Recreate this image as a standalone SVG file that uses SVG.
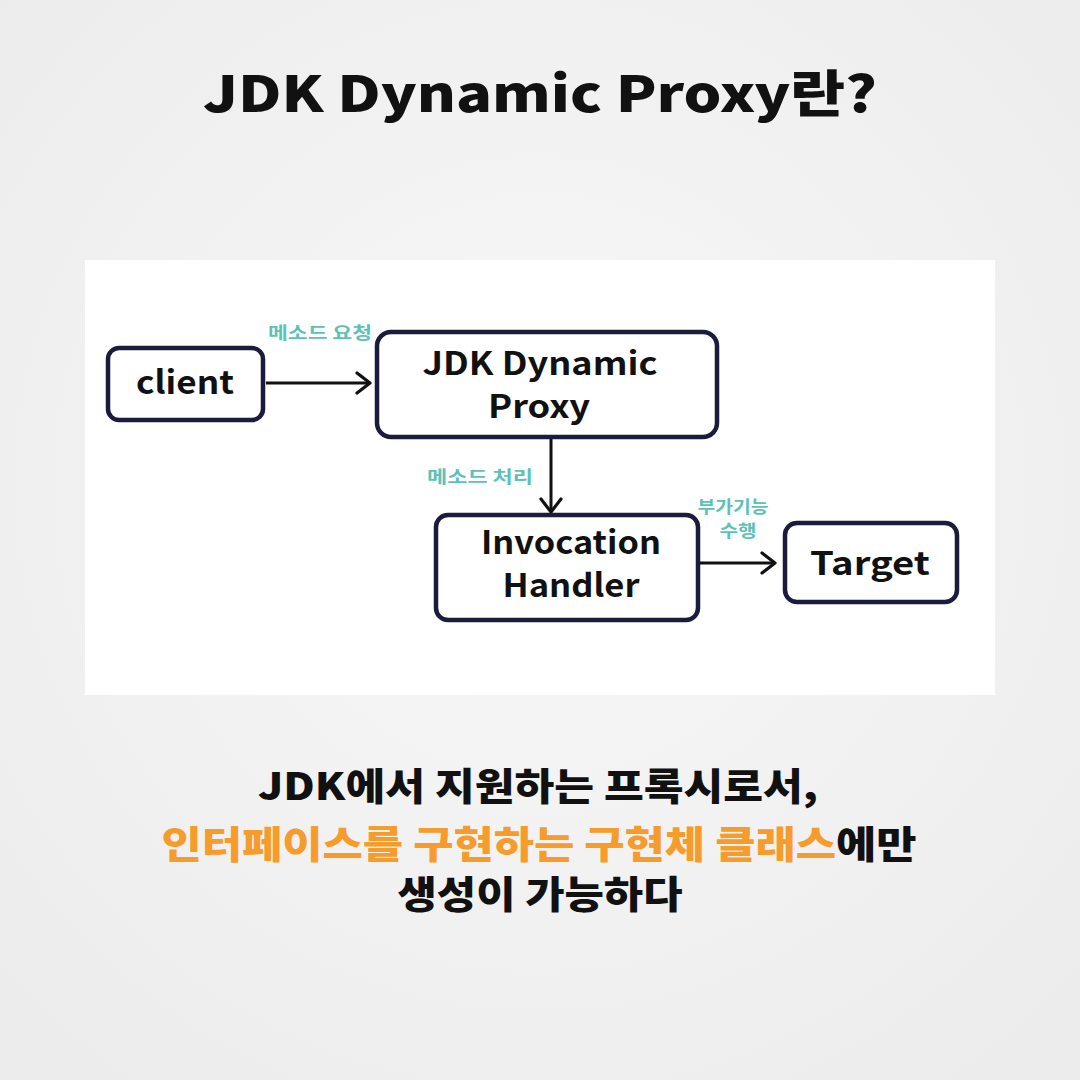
<svg xmlns="http://www.w3.org/2000/svg" width="1080" height="1080" viewBox="0 0 1080 1080">
<defs>
<radialGradient id="bg" cx="50%" cy="45%" r="75%">
<stop offset="0" stop-color="#f8f8f8"/>
<stop offset="1" stop-color="#ebebeb"/>
</radialGradient>
<marker id="arr" viewBox="0 0 24 24" refX="21" refY="12" markerWidth="24" markerHeight="24" markerUnits="userSpaceOnUse" orient="auto">
<path d="M8 2 L21 12 L8 22" fill="none" stroke="#111" stroke-width="3.2" stroke-linecap="round" stroke-linejoin="round"/>
</marker>
</defs>
<style>
.node{fill:#fff;stroke:#1b1b3d;stroke-width:4.5}
.nt{font-family:"Noto Sans CJK KR","Noto Sans",sans-serif;font-weight:700;font-size:32px;fill:#111;text-anchor:middle}
.lab{font-family:"Noto Sans CJK KR",sans-serif;font-weight:700;font-size:17px;fill:#5cc2b8;text-anchor:middle}
.con{stroke:#111;stroke-width:3;fill:none;marker-end:url(#arr)}
.big{font-family:"Noto Sans CJK KR",sans-serif;font-weight:900;fill:#111;text-anchor:middle}
.or{fill:#f59c2c}
</style>
<rect width="1080" height="1080" fill="url(#bg)"/>
<text class="big" x="540" y="112" font-size="50" textLength="674" lengthAdjust="spacingAndGlyphs">JDK Dynamic Proxy란?</text>
<rect x="85" y="260" width="910" height="435" fill="#fff"/>
<g id="connectors">
<line class="con" x1="266" y1="383" x2="370" y2="383"/>
<line class="con" x1="551" y1="438" x2="551" y2="512"/>
<line class="con" x1="700" y1="563" x2="775" y2="563"/>
</g>
<g id="labels">
<text class="lab" x="320" y="339" textLength="104" lengthAdjust="spacingAndGlyphs">메소드 요청</text>
<text class="lab" x="480" y="483" textLength="106" lengthAdjust="spacingAndGlyphs">메소드 처리</text>
<text class="lab" x="733" y="513" textLength="71" lengthAdjust="spacingAndGlyphs">부가기능</text>
<text class="lab" x="738" y="537" textLength="37" lengthAdjust="spacingAndGlyphs">수행</text>
</g>
<g id="client">
<rect class="node" x="108" y="348" width="155" height="72" rx="11"/>
<text class="nt" x="185" y="394" textLength="98" lengthAdjust="spacingAndGlyphs">client</text>
</g>
<g id="proxy">
<rect class="node" x="377" y="332" width="340" height="105" rx="14"/>
<text class="nt" x="540" y="375" textLength="235" lengthAdjust="spacingAndGlyphs">JDK Dynamic</text>
<text class="nt" x="539" y="418" textLength="102" lengthAdjust="spacingAndGlyphs">Proxy</text>
</g>
<g id="handler">
<rect class="node" x="436" y="515" width="262" height="105" rx="12"/>
<text class="nt" x="571" y="554" font-size="31" textLength="180" lengthAdjust="spacingAndGlyphs">Invocation</text>
<text class="nt" x="571" y="597" font-size="31" textLength="137" lengthAdjust="spacingAndGlyphs">Handler</text>
</g>
<g id="target">
<rect class="node" x="785" y="523" width="172" height="79" rx="12"/>
<text class="nt" x="870" y="575" textLength="120" lengthAdjust="spacingAndGlyphs">Target</text>
</g>
<text class="big" x="538" y="800" font-size="38" textLength="560" lengthAdjust="spacingAndGlyphs">JDK에서 지원하는 프록시로서,</text>
<text class="big" x="539" y="858" font-size="38" textLength="755" lengthAdjust="spacingAndGlyphs"><tspan class="or">인터페이스를 구현하는 구현체 클래스</tspan>에만</text>
<text class="big" x="540" y="908" font-size="38" textLength="285" lengthAdjust="spacingAndGlyphs">생성이 가능하다</text>
</svg>
